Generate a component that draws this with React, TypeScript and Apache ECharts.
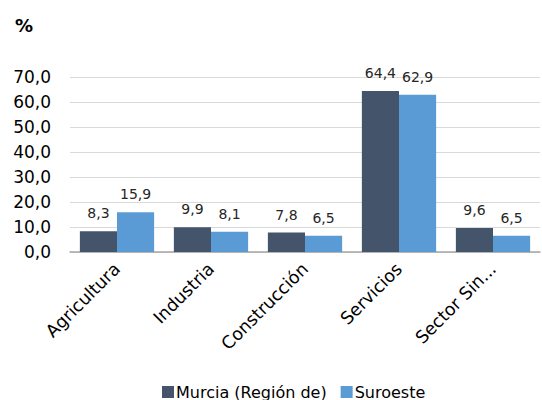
import React, { useEffect, useRef } from "react";
import * as echarts from "echarts";

const categories = ["Agricultura", "Industria", "Construcción", "Servicios", "Sector Sin..."];
const murcia = [8.3, 9.9, 7.8, 64.4, 9.6];
const suroeste = [15.9, 8.1, 6.5, 62.9, 6.5];
const seriesNames = ["Murcia (Región de)", "Suroeste"];

const FONT = "DejaVu Sans";
const fmt = (v: number) => v.toFixed(1).replace(".", ",");

export default function App() {
  const ref = useRef<HTMLDivElement>(null);
  useEffect(() => {
    const chart = echarts.init(ref.current!, null, { renderer: "svg" });
    const label = {
      show: true,
      position: "top" as const,
      distance: 11,
      color: "#262626",
      fontFamily: FONT,
      fontSize: 14,
      formatter: (p: any) => fmt(p.value),
    };
    chart.setOption({
      animation: false,
      title: {
        text: "%",
        left: 10,
        top: 11,
        textStyle: { fontFamily: FONT, fontSize: 18, fontWeight: "bold", color: "#000" },
      },
      legend: {
        top: 379,
        left: 157,
        itemWidth: 12,
        itemHeight: 12,
        itemGap: 14,
        icon: "rect",
        textStyle: { fontFamily: FONT, fontSize: 16, color: "#000", padding: [0, 0, 0, -3] },
        data: seriesNames,
      },
      grid: { left: 70, right: 2, top: 77, bottom: 148 },
      xAxis: {
        type: "category",
        data: categories,
        axisTick: { show: false },
        axisLine: { lineStyle: { color: "#a6a6a6", width: 1.5 } },
        axisLabel: {
          rotate: 45,
          interval: 0,
          margin: 14,
          fontFamily: FONT,
          fontSize: 17.5,
          color: "#000",
        },
      },
      yAxis: {
        type: "value",
        min: 0,
        max: 70,
        interval: 10,
        axisLine: { show: false },
        axisTick: { show: false },
        splitLine: { lineStyle: { color: "#d9d9d9", width: 1 } },
        axisLabel: {
          fontFamily: FONT,
          fontSize: 17,
          color: "#000",
          margin: 19,
          formatter: (v: number) => fmt(v),
        },
      },
      series: [
        {
          name: seriesNames[0],
          type: "bar",
          data: murcia,
          itemStyle: { color: "#44546A" },
          barGap: "0%",
          barCategoryGap: "21%",
          label,
        },
        {
          name: seriesNames[1],
          type: "bar",
          data: suroeste,
          itemStyle: { color: "#5B9BD5" },
          barGap: "0%",
          barCategoryGap: "21%",
          label,
        },
      ],
    });
    return () => chart.dispose();
  }, []);
  return <div ref={ref} style={{ position: "absolute", left: 0, top: 0, width: 542, height: 400 }} />;
}
